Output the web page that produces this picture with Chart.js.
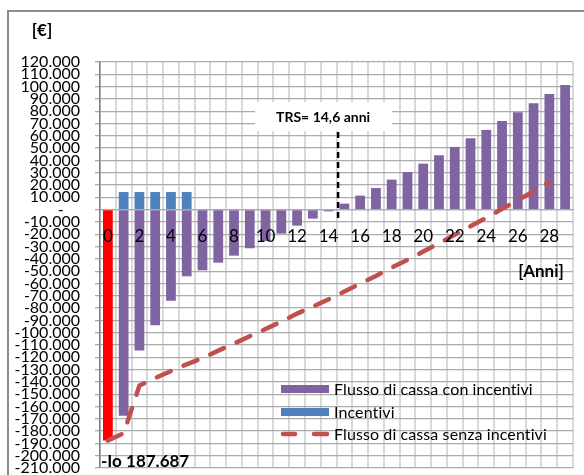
<!DOCTYPE html>
<html>
<head>
<meta charset="utf-8">
<script src="https://cdn.jsdelivr.net/npm/chart.js@4.4.1/dist/chart.umd.min.js"></script>
<style>
  html, body { margin: 0; padding: 0; background: #fff; overflow: hidden; }
  #wrap { position: relative; width: 584px; height: 475px; overflow: hidden; }
  #frame { position: absolute; left: 7px; top: 10px; width: 620px; height: 520px;
           border: 2px solid #8c8c8c; box-sizing: border-box; }
  #c { position: absolute; left: 0; top: 0; }
</style>
</head>
<body>
<div id="wrap">
  <div id="frame"></div>
  <canvas id="c" width="584" height="475"></canvas>
</div>
<script>
// Years of the investment horizon
const anni = [0, 1, 2, 3, 4, 5, 6, 7, 8, 9, 10, 11, 12, 13, 14, 15, 16, 17, 18, 19,
              20, 21, 22, 23, 24, 25, 26, 27, 28, 29];

// Cumulative cash flow with incentives (year 0 = initial investment Io)
const flussoConIncentivi = [-187687, -167500, -114400, -94000, -74000, -54200, -49300, -43100,
  -37400, -31400, -25500, -19500, -13000, -7300, -1400, 4900, 11400, 17600, 24400, 30600,
  37400, 44200, 51000, 58000, 64800, 72100, 79100, 86400, 94000, 101400];

// Yearly incentive received (first five years)
const incentivi = [null, 14300, 14300, 14300, 14300, 14300, null, null, null, null, null, null,
  null, null, null, null, null, null, null, null, null, null, null, null, null, null, null,
  null, null, null];

// Cumulative cash flow without incentives
const flussoSenzaIncentivi = [-187687, -181800, -143000, -136900, -131200, -125700, -120800,
  -114600, -108900, -102900, -97000, -91000, -84500, -78800, -72900, -66600, -60100, -53900,
  -47100, -40900, -34100, -27300, -20500, -13500, -6700, 600, 7600, 14900, 22500, null];

// Payback time (years) and value axis range
const trs = 14.6;
const trsLabel = 'TRS= 14,6 anni';
const investimento = 187687;
const yMin = -210000, yMax = 120000, yStep = 10000;

const FONT = 'Lato, "Open Sans", sans-serif';

function migliaia(v) {
  const s = Math.round(Math.abs(v)).toString().replace(/\B(?=(\d{3})+(?!\d))/g, '.');
  return (v < 0 ? '-' : '') + s;
}

const annotazioni = {
  id: 'annotazioni',
  beforeDatasetsDraw(chart) {
    const { ctx, scales: { x } } = chart;
    const xt = x.getPixelForValue(trs);
    // TRS label box
    ctx.save();
    ctx.fillStyle = '#fff';
    ctx.fillRect(xt - 83, 102, 137, 29);
    ctx.fillStyle = '#000';
    ctx.font = 'bold 14px ' + FONT;
    ctx.textAlign = 'center';
    ctx.textBaseline = 'middle';
    ctx.fillText(trsLabel, xt - 15, 117);
    ctx.restore();
  },
  afterDatasetsDraw(chart) {
    const { ctx, scales: { x, y } } = chart;
    const xt = x.getPixelForValue(trs);
    ctx.save();
    // payback marker
    ctx.strokeStyle = '#000';
    ctx.lineWidth = 2.5;
    ctx.setLineDash([6, 4]);
    ctx.beginPath();
    ctx.moveTo(xt, 132);
    ctx.lineTo(xt, y.getPixelForValue(0) + 12);
    ctx.stroke();
    ctx.setLineDash([]);

    // axis titles and Io label
    ctx.fillStyle = '#000';
    ctx.textBaseline = 'middle';
    ctx.font = 'bold 17px ' + FONT;
    ctx.textAlign = 'center';
    ctx.fillText('[€]', 42, 31);
    ctx.fillText('[Anni]', 541, 272);
    ctx.textAlign = 'left';
    ctx.fillText('-Io ' + migliaia(investimento), 101, 462);

    // legend (small letter spacing keeps "ti" from forming a ligature)
    const ds = chart.data.datasets;
    const lx = 281, ly = [389, 412, 434];
    ctx.font = '16px ' + FONT;
    if ('letterSpacing' in ctx) ctx.letterSpacing = '0.1px';
    ctx.fillStyle = '#8064a2';
    ctx.fillRect(lx, ly[0] - 4, 48, 8);
    ctx.fillStyle = '#4f81bd';
    ctx.fillRect(lx, ly[1] - 4, 48, 8);
    ctx.strokeStyle = '#c0504d';
    ctx.lineWidth = 4.5;
    ctx.lineCap = 'round';
    ctx.beginPath();
    ctx.moveTo(lx + 2, ly[2]); ctx.lineTo(lx + 14, ly[2]);
    ctx.moveTo(lx + 33, ly[2]); ctx.lineTo(lx + 46, ly[2]);
    ctx.stroke();
    ctx.fillStyle = '#000';
    ds.forEach((d, i) => ctx.fillText(d.label, lx + 53, ly[i] + 1));
    ctx.restore();
  }
};

new Chart(document.getElementById('c'), {
  type: 'bar',
  data: {
    labels: anni,
    datasets: [
      {
        label: 'Flusso di cassa con incentivi',
        data: flussoConIncentivi,
        backgroundColor: anni.map(a => a === 0 ? '#ff0000' : '#8064a2'),
        stack: 'flussi',
        order: 2
      },
      {
        label: 'Incentivi',
        data: incentivi,
        backgroundColor: '#4f81bd',
        stack: 'flussi',
        order: 2
      },
      {
        type: 'line',
        label: 'Flusso di cassa senza incentivi',
        data: flussoSenzaIncentivi,
        borderColor: '#c0504d',
        borderWidth: 4.5,
        borderDash: [15, 14],
        borderCapStyle: 'round',
        pointRadius: 0,
        fill: false,
        tension: 0,
        stack: 'linea',
        order: 1
      }
    ]
  },
  options: {
    responsive: false,
    animation: false,
    events: [],
    layout: { padding: { top: 62, right: 11, left: 0, bottom: 7 } },
    plugins: { legend: { display: false }, tooltip: { enabled: false } },
    datasets: { bar: { categoryPercentage: 1, barPercentage: 0.62 } },
    scales: {
      x: {
        stacked: true,
        position: { y: 0 },
        grid: { color: '#d9d9d9', lineWidth: 2, offset: true, drawTicks: false, z: -1 },
        border: { display: true, color: '#a6a6a6', width: 1.3, z: -1 },
        ticks: {
          z: 1,
          autoSkip: false, maxRotation: 0, padding: 17, color: '#000',
          font: { family: FONT, size: 17 },
          callback: (v, i) => (i % 2 === 0 ? String(anni[i]) : '')
        }
      },
      y: {
        stacked: true,
        min: yMin, max: yMax,
        grid: { color: '#ababab', lineWidth: 1.3, tickLength: 5 },
        border: { color: '#808080', width: 1.5 },
        ticks: {
          stepSize: yStep, autoSkip: false, padding: 15, color: '#000',
          font: { family: FONT, size: 16, lineHeight: 1 },
          callback: v => (v === 0 ? '-    ' : migliaia(v))
        },
        afterFit: s => { s.width = 100; s.paddingTop = 0; s.paddingBottom = 0; }
      }
    }
  },
  plugins: [annotazioni]
});
</script>
</body>
</html>
